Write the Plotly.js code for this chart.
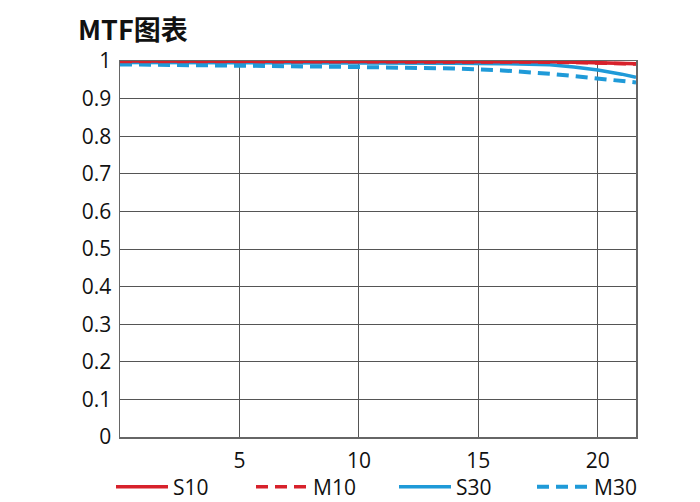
<!DOCTYPE html>
<html>
<head>
<meta charset="utf-8">
<script src="https://cdn.plot.ly/plotly-3.0.1.min.js"></script>
<style>html,body{margin:0;padding:0;background:#fff;}#chart{width:700px;height:502px;}</style>
</head>
<body>
<div id="chart"></div>
<script>
const chartTitle = "MTF图表";
const xValues = [0, 2, 4, 6, 8, 10, 12, 14, 16, 17, 18, 19, 20, 21, 21.6];
const s10 = [1.0, 1.0, 1.0, 1.0, 1.0, 1.0, 1.0, 1.0, 0.999, 0.999, 0.998, 0.997, 0.996, 0.994, 0.993];
const m10 = [0.999, 0.999, 0.999, 0.999, 0.999, 0.999, 0.998, 0.998, 0.998, 0.997, 0.997, 0.996, 0.995, 0.993, 0.992];
const s30 = [0.996, 0.996, 0.996, 0.995, 0.995, 0.995, 0.995, 0.994, 0.993, 0.992, 0.99, 0.984, 0.976, 0.965, 0.957];
const m30 = [0.991, 0.990, 0.989, 0.987, 0.985, 0.984, 0.982, 0.980, 0.975, 0.971, 0.966, 0.960, 0.954, 0.947, 0.943];
const seriesNames = ["S10", "M10", "S30", "M30"];
const xTickVals = [5, 10, 15, 20];
const xTickText = ["5", "10", "15", "20"];
const yTickVals = [0, 0.1, 0.2, 0.3, 0.4, 0.5, 0.6, 0.7, 0.8, 0.9, 1];
const yTickText = ["0", "0.1", "0.2", "0.3", "0.4", "0.5", "0.6", "0.7", "0.8", "0.9", "1"];

const red = "#d7212b", blue = "#1f9ad8";
const dashPat = "12px,7px";
const traces = [
  {x: xValues, y: s30, name: seriesNames[2], mode: "lines", line: {color: blue, width: 3.5}, legend: "legend3"},
  {x: xValues, y: m30, name: seriesNames[3], mode: "lines", line: {color: blue, width: 4, dash: dashPat}, legend: "legend4"},
  {x: xValues, y: s10, name: seriesNames[0], mode: "lines", line: {color: red, width: 3.5}, legend: "legend"},
  {x: xValues, y: m10, name: seriesNames[1], mode: "lines", line: {color: red, width: 3.5, dash: dashPat}, legend: "legend2"}
];

const legendLefts = [111, 251, 394, 532];
function legendAt(px) {
  return {orientation: "h", xref: "container", x: px/700, xanchor: "left",
          yref: "container", y: 15/502, yanchor: "middle", itemwidth: 52,
          font: {size: 21, color: "#111"}, bgcolor: "rgba(0,0,0,0)", borderwidth: 0};
}

const layout = {
  width: 700, height: 502,
  margin: {l: 120, r: 64, t: 61, b: 65},
  paper_bgcolor: "#fff", plot_bgcolor: "#fff",
  font: {family: "Open Sans, Noto Sans, sans-serif", size: 21, color: "#111"},
  title: {text: "<b>" + chartTitle + "</b>", x: 78/700, xanchor: "left", y: 1 - 31/502, yanchor: "middle",
          font: {family: "Noto Sans CJK SC, Noto Sans, sans-serif", size: 27, color: "#111"}},
  showlegend: true,
  legend: legendAt(legendLefts[0]),
  legend2: legendAt(legendLefts[1]),
  legend3: legendAt(legendLefts[2]),
  legend4: legendAt(legendLefts[3]),
  xaxis: {range: [0, 21.6], tickvals: xTickVals, ticktext: xTickText, showgrid: true,
          gridcolor: "#555", gridwidth: 1, showline: true, linecolor: "#666", linewidth: 1.5,
          mirror: true, zeroline: false, ticks: "outside", ticklen: 4, tickcolor: "rgba(0,0,0,0)", fixedrange: true},
  yaxis: {range: [0, 1.0], tickvals: yTickVals, ticktext: yTickText, showgrid: true,
          gridcolor: "#555", gridwidth: 1, showline: true, linecolor: "#666", linewidth: 1.5,
          mirror: true, zeroline: false, ticks: "outside", ticklen: 3, tickcolor: "rgba(0,0,0,0)", fixedrange: true}
};
Plotly.newPlot("chart", traces, layout, {displayModeBar: false, staticPlot: true});
</script>
</body>
</html>
